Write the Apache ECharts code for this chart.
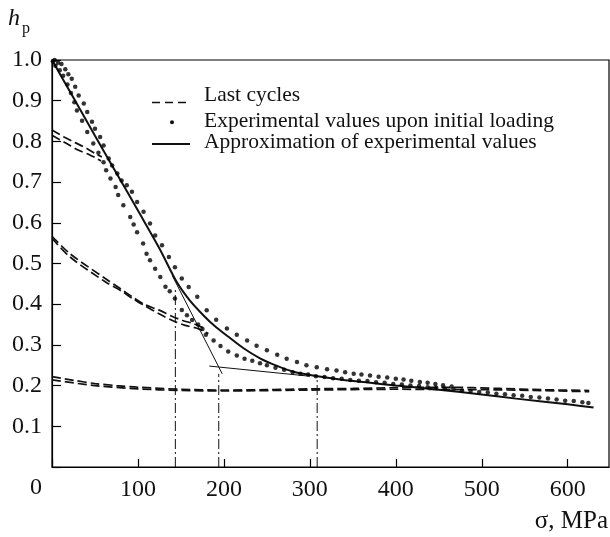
<!DOCTYPE html>
<html>
<head>
<meta charset="utf-8">
<script src="https://cdn.jsdelivr.net/npm/echarts@6/dist/echarts.min.js"></script>
<style>
  html, body { margin: 0; padding: 0; background: #fff; }
  #chart { width: 610px; height: 537px; }
</style>
</head>
<body>
<div id="chart"></div>
<script>
// Tick values
const sigmaTicks = [0, 100, 200, 300, 400, 500, 600];
const hTicks = [0.1, 0.2, 0.3, 0.4, 0.5, 0.6, 0.7, 0.8, 0.9, 1.0];

// Experimental values upon initial loading: [sigma, h_p]
const upperDots = [
  [3, 1.0], [7, 0.993], [11, 0.99], [15.5, 0.977], [19, 0.965], [23, 0.954], [27, 0.934],
  [31, 0.913], [37, 0.893], [41, 0.872], [46.5, 0.848], [50, 0.831], [56, 0.811], [60, 0.79],
  [66, 0.758], [70, 0.741], [76, 0.721], [81, 0.704], [87, 0.692], [93, 0.676], [99, 0.651],
  [106.5, 0.627], [114, 0.598], [120, 0.569], [128, 0.545], [136, 0.516], [143, 0.491],
  [151, 0.463], [159, 0.442], [169, 0.418], [180, 0.385], [191, 0.362], [203.5, 0.34],
  [215, 0.325], [227, 0.311], [238, 0.298], [250, 0.287], [262, 0.276], [273, 0.266],
  [285, 0.258], [296, 0.25], [308, 0.245], [320, 0.24], [331, 0.237], [341, 0.233],
  [351, 0.229], [360, 0.227], [370, 0.225], [380, 0.222], [390, 0.22], [400, 0.217],
  [409, 0.215], [418, 0.212], [428, 0.209], [437, 0.207], [446, 0.204], [455, 0.201], [465, 0.198]
];
const lowerDots = [
  [1, 0.997], [4, 0.986], [9, 0.975], [13, 0.961], [18, 0.94], [22, 0.919], [26, 0.896],
  [29, 0.876], [35, 0.851], [41, 0.823], [48, 0.795], [54, 0.772], [60, 0.749], [63, 0.729],
  [68, 0.709], [74, 0.688], [77, 0.668], [83, 0.643], [91, 0.614], [95, 0.596], [99, 0.577],
  [106, 0.549], [110, 0.524], [114, 0.508], [120, 0.487], [126, 0.467], [132, 0.443],
  [137, 0.432], [143, 0.414], [151, 0.386], [157, 0.373], [163, 0.361], [170, 0.35],
  [175, 0.339], [179, 0.325], [188, 0.311], [196, 0.297], [205, 0.284], [215, 0.274],
  [224, 0.266], [233, 0.261], [242, 0.255], [250, 0.25], [260, 0.244], [270, 0.239],
  [280, 0.233], [289, 0.229], [298, 0.227], [307, 0.223], [317, 0.221], [327, 0.218],
  [337, 0.217], [347, 0.214], [357, 0.212], [367, 0.211], [377, 0.208], [387, 0.207],
  [397, 0.204], [407, 0.203], [417, 0.2], [427, 0.199], [437, 0.196], [447, 0.195],
  [457, 0.192], [467, 0.191], [477, 0.188], [487, 0.187], [497, 0.184], [507, 0.183],
  [517, 0.18], [527, 0.179], [537, 0.176], [547, 0.175], [557, 0.172], [567, 0.171],
  [577, 0.168], [587, 0.166], [597, 0.163], [607, 0.162], [617, 0.159], [624, 0.157]
];

// Approximation of experimental values
const approxCurve = [
  [0, 1.0], [25, 0.907], [50, 0.814], [75, 0.722], [100, 0.63], [125, 0.537], [145, 0.455],
  [160, 0.41], [176, 0.373], [190, 0.345], [204, 0.322], [222, 0.293], [242, 0.267],
  [261, 0.249], [281, 0.234], [300, 0.226], [335, 0.215], [370, 0.207], [400, 0.2],
  [450, 0.19], [500, 0.178], [540, 0.168], [600, 0.154], [630, 0.146]
];

// Last cycles (each pair drawn as two close dashed curves)
const lastUpperA = [[0, 0.828], [14, 0.811], [27, 0.797], [41, 0.782], [52, 0.768], [58, 0.762]];
const lastUpperB = [[0, 0.815], [17, 0.795], [31, 0.778], [43, 0.768], [52, 0.758], [57, 0.752]];
const lastMiddleA = [[0, 0.567], [21, 0.524], [62, 0.463], [81, 0.436], [95, 0.416], [108, 0.399],
  [124, 0.386], [140, 0.37], [152, 0.36], [165, 0.352], [178, 0.34]];
const lastMiddleB = [[0, 0.562], [21, 0.516], [62, 0.455], [81, 0.432], [95, 0.412], [108, 0.396],
  [124, 0.377], [140, 0.36], [155, 0.348], [170, 0.34], [182, 0.328]];
const lastLowerA = [[0, 0.222], [25, 0.213], [50, 0.205], [75, 0.2], [100, 0.196], [150, 0.191],
  [200, 0.189], [250, 0.19], [300, 0.192], [350, 0.193], [400, 0.195], [460, 0.196],
  [520, 0.193], [570, 0.19], [625, 0.188]];
const lastLowerB = [[0, 0.214], [50, 0.2], [100, 0.192], [150, 0.188], [200, 0.187],
  [300, 0.189], [400, 0.191], [500, 0.19], [560, 0.188], [625, 0.185]];

// Tangent construction lines
const tangentSteep = [[140, 0.47], [198, 0.229]];
const tangentFlat = [[183, 0.248], [300, 0.223]];

// Characteristic stresses marked by dash-dot verticals: [sigma, top h_p]
const markers = [[143.5, 0.436], [194, 0.229], [308.5, 0.221]];

const FONT = "'Liberation Serif', 'Times New Roman', serif";
const INK = '#111';

const chart = echarts.init(document.getElementById('chart'), null, { renderer: 'canvas' });

function lineSeries(data, style, smooth) {
  return {
    type: 'line', data: data, symbol: 'none', smooth: smooth ? 0.3 : false,
    silent: true, z: 3,
    lineStyle: Object.assign({ color: INK }, style)
  };
}

const dashed = { width: 1.7, type: [9, 4] };
const series = [];
[lastUpperA, lastUpperB, lastMiddleA, lastMiddleB, lastLowerA, lastLowerB].forEach(d => {
  series.push(lineSeries(d, dashed, true));
});
series.push(lineSeries(approxCurve, { width: 2 }, true));
series.push(lineSeries(tangentSteep, { width: 1 }, false));
series.push(lineSeries(tangentFlat, { width: 1 }, false));
markers.forEach(m => {
  series.push(lineSeries([[m[0], 0], [m[0], m[1]]], { width: 1, type: [10, 3, 2, 3] }, false));
});
[upperDots, lowerDots].forEach(d => {
  series.push({
    type: 'scatter', data: d, symbol: 'circle', symbolSize: 4.5, silent: true, z: 4,
    itemStyle: { color: '#000' }
  });
});

const legendItems = ['Last cycles', 'Experimental values upon initial loading', 'Approximation of experimental values'];
const legendY = [95, 121, 142];

chart.setOption({
  animation: false,
  backgroundColor: '#fff',
  grid: { left: 52, top: 60, right: 1, bottom: 70, show: true, borderColor: '#000', borderWidth: 1.2 },
  xAxis: {
    type: 'value', min: 0, max: 648, interval: 100,
    axisLine: { lineStyle: { color: '#000', width: 1.2 } },
    axisTick: { inside: true, length: 8, lineStyle: { color: '#000', width: 1.2 } },
    axisLabel: {
      showMaxLabel: false, margin: 11, color: INK, fontFamily: FONT, fontSize: 24,
      formatter: v => (v > 0 && sigmaTicks.indexOf(v) >= 0) ? String(v) : ''
    },
    splitLine: { show: false }
  },
  yAxis: {
    type: 'value', min: 0, max: 1.0, interval: 0.1,
    axisLine: { lineStyle: { color: '#000', width: 1.2 } },
    axisTick: { inside: true, length: 9, lineStyle: { color: '#000', width: 1.2 } },
    axisLabel: {
      margin: 10, color: INK, fontFamily: FONT, fontSize: 24,
      formatter: v => {
        const t = hTicks.find(x => Math.abs(x - v) < 1e-9);
        return t === undefined ? '' : t.toFixed(1);
      }
    },
    splitLine: { show: false }
  },
  series: series,
  graphic: [
    { type: 'text', x: 8, y: 19, style: { text: 'h', fontFamily: FONT, fontStyle: 'italic', fontSize: 24, fill: INK, verticalAlign: 'middle' } },
    { type: 'text', x: 22, y: 29, style: { text: 'p', fontFamily: FONT, fontSize: 16, fill: INK, verticalAlign: 'middle' } },
    { type: 'text', x: 36, y: 488, style: { text: '0', fontFamily: FONT, fontSize: 24, fill: INK, align: 'center', verticalAlign: 'middle' } },
    { type: 'text', x: 608, y: 521, style: { text: 'σ, MPa', fontFamily: FONT, fontSize: 25, fill: INK, align: 'right', verticalAlign: 'middle' } },
    // legend keys
    { type: 'line', shape: { x1: 152, y1: 102.5, x2: 190, y2: 102.5 }, style: { stroke: INK, lineWidth: 1.7, lineDash: [8, 5] } },
    { type: 'circle', shape: { cx: 172, cy: 122.3, r: 2 }, style: { fill: INK } },
    { type: 'line', shape: { x1: 152, y1: 144, x2: 190, y2: 144 }, style: { stroke: INK, lineWidth: 2 } },
    { type: 'text', x: 204, y: legendY[0], style: { text: legendItems[0], fontFamily: FONT, fontSize: 21.5, fill: INK, verticalAlign: 'middle' } },
    { type: 'text', x: 204, y: legendY[1], style: { text: legendItems[1], fontFamily: FONT, fontSize: 21.5, fill: INK, verticalAlign: 'middle' } },
    { type: 'text', x: 204, y: legendY[2], style: { text: legendItems[2], fontFamily: FONT, fontSize: 21.5, fill: INK, verticalAlign: 'middle' } }
  ]
});
</script>
</body>
</html>
